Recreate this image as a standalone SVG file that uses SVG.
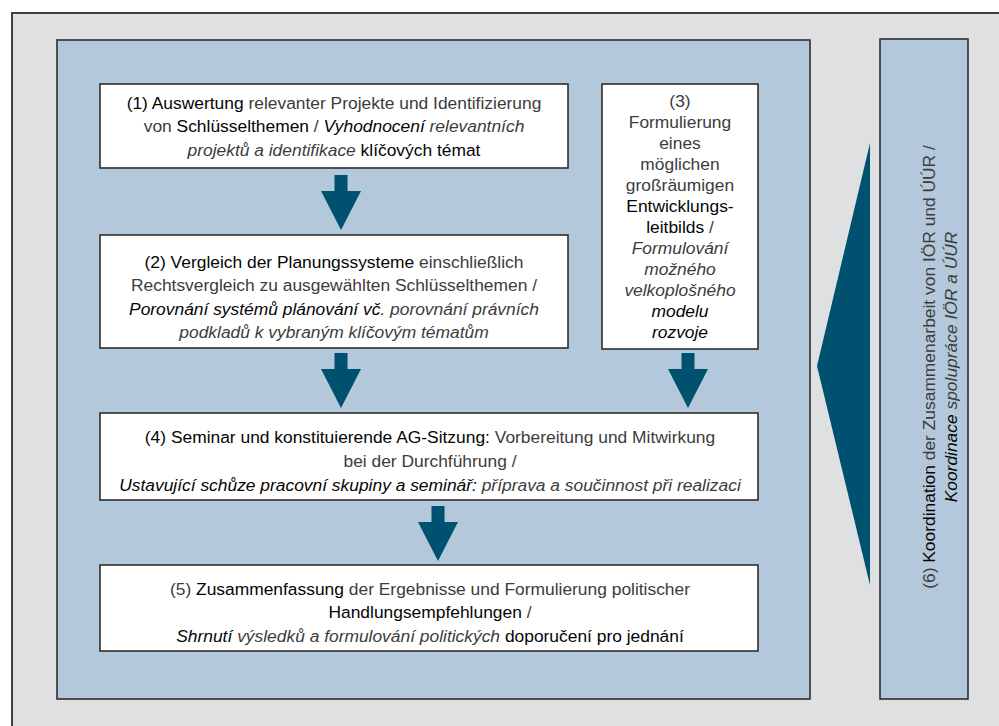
<svg xmlns="http://www.w3.org/2000/svg" width="999" height="726" viewBox="0 0 999 726">
<style>
.bg{fill:#dfe0e2;stroke:#3f3f3f;stroke-width:2}
.panel{fill:#b3c9db;stroke:#2e2e2e;stroke-width:1.6}
.box{fill:#ffffff;stroke:#2e2e2e;stroke-width:1.6}
.arrow{fill:#00506f}
text{font-family:"Liberation Sans",Arial,Helvetica,sans-serif;font-size:17.4px;fill:#3c3c3c;text-anchor:middle}
.b{fill:#050505}
.i{font-style:italic}
</style>
<defs>
<path id="arr" d="M-6.5,0 H6.5 V16 H20 L0,55 L-20,16 H-6.5 Z"/>
</defs>
<rect class="bg" x="12" y="13" width="1000" height="730"/>
<rect id="main-panel" class="panel" x="57" y="40" width="753" height="659"/>
<g id="connectors">
<use href="#arr" class="arrow" x="341" y="175"/>
<use href="#arr" class="arrow" x="341" y="353"/>
<use href="#arr" class="arrow" x="688" y="353"/>
<use href="#arr" class="arrow" x="438" y="506"/>
<polygon class="arrow" points="870,143 817,366 870,585"/>
</g>
<g id="node1">
<rect class="box" x="100" y="84" width="468" height="84"/>
<text x="334" y="109"><tspan class="b">(1) Auswertung</tspan> relevanter Projekte und Identifizierung</text>
<text x="334" y="132">von <tspan class="b">Schlüsselthemen</tspan> / <tspan class="b i">Vyhodnocení</tspan> <tspan class="i">relevantních</tspan></text>
<text x="334" y="156"><tspan class="i">projektů a identifikace</tspan> <tspan class="b">klíčových témat</tspan></text>
</g>
<g id="node2">
<rect class="box" x="100" y="235" width="468" height="113"/>
<text x="334" y="268"><tspan class="b">(2) Vergleich der Planungssysteme</tspan> einschließlich</text>
<text x="334" y="291">Rechtsvergleich zu ausgewählten Schlüsselthemen /</text>
<text x="334" y="315"><tspan class="b i">Porovnání systémů plánování vč</tspan><tspan class="i">. porovnání právních</tspan></text>
<text x="334" y="338"><tspan class="i">podkladů k vybraným klíčovým tématům</tspan></text>
</g>
<g id="node3">
<rect class="box" x="602" y="84" width="156" height="265"/>
<text x="680" y="107">(3)</text>
<text x="680" y="128">Formulierung</text>
<text x="680" y="149">eines</text>
<text x="680" y="170">möglichen</text>
<text x="680" y="191">großräumigen</text>
<text x="680" y="212" class="b">Entwicklungs-</text>
<text x="680" y="233"><tspan class="b">leitbilds</tspan> /</text>
<text x="680" y="254" class="i">Formulování</text>
<text x="680" y="275" class="i">možného</text>
<text x="680" y="296" class="i">velkoplošného</text>
<text x="680" y="317" class="b i">modelu</text>
<text x="680" y="338" class="b i">rozvoje</text>
</g>
<g id="node4">
<rect class="box" x="100" y="413" width="658" height="87"/>
<text x="430" y="443"><tspan class="b">(4) Seminar und konstituierende AG-Sitzung:</tspan> Vorbereitung und Mitwirkung</text>
<text x="430" y="467">bei der Durchführung /</text>
<text x="430" y="491"><tspan class="b i">Ustavující schůze pracovní skupiny a seminář:</tspan> <tspan class="i">příprava a součinnost při realizaci</tspan></text>
</g>
<g id="node5">
<rect class="box" x="100" y="565" width="658" height="86"/>
<text x="430" y="595">(5) <tspan class="b">Zusammenfassung</tspan> der Ergebnisse und Formulierung politischer</text>
<text x="430" y="618"><tspan class="b">Handlungsempfehlungen</tspan> /</text>
<text x="430" y="642"><tspan class="b i">Shrnutí</tspan> <tspan class="i">výsledků a formulování politických</tspan> <tspan class="b">doporučení pro jednání</tspan></text>
</g>
<g id="node6">
<rect class="panel" x="880" y="39" width="88" height="660"/>
<text transform="translate(935,367) rotate(-90)">(6) <tspan class="b">Koordination</tspan> der Zusammenarbeit von IÖR und ÚÚR /</text>
<text transform="translate(957,367) rotate(-90)"><tspan class="b i">Koordinace</tspan> <tspan class="i">spolupráce IÖR a ÚÚR</tspan></text>
</g>
</svg>
